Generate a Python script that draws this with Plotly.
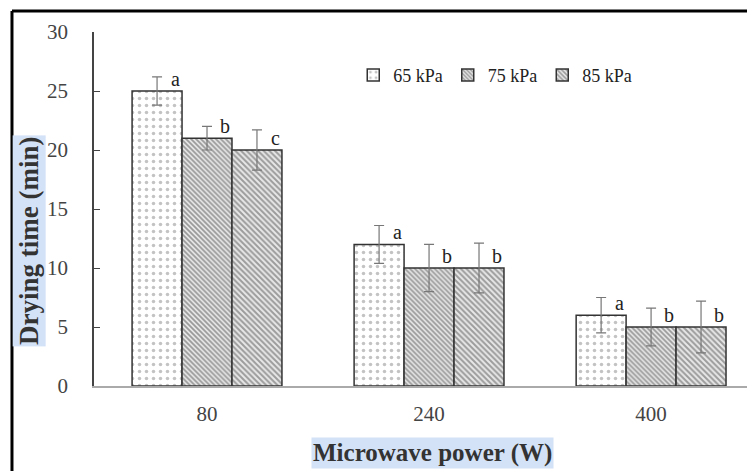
import plotly.graph_objects as go

# ---- data ----
categories = ["80", "240", "400"]
series_names = ["65 kPa", "75 kPa", "85 kPa"]
values_65 = [25, 12, 6]
values_75 = [21, 10, 5]
values_85 = [20, 10, 5]
err_65 = [1.2, 1.6, 1.5]
err_75 = [1.0, 2.0, 1.6]
err_85 = [1.7, 2.1, 2.2]
letters_65 = ["a", "a", "a"]
letters_75 = ["b", "b", "b"]
letters_85 = ["c", "b", "b"]
y_ticks = [0, 5, 10, 15, 20, 25, 30]

values = [values_65, values_75, values_85]
errors = [err_65, err_75, err_85]
letters = [letters_65, letters_75, letters_85]

FONT = "Liberation Serif, Times New Roman, serif"
BARGAP = 0.325
xpos = list(range(len(categories)))

patterns = [
    dict(shape=".", fgcolor="#888888", bgcolor="white", size=7, solidity=0.2),
    dict(shape="\\", fgcolor="#4a4a4a", bgcolor="#e8e8e8", size=3.5, solidity=0.5),
    dict(shape="\\", fgcolor="#505050", bgcolor="#e8e8e8", size=4, solidity=0.5),
]

fig = go.Figure()
for j in range(3):
    fig.add_trace(go.Bar(
        x=xpos, y=values[j], name=series_names[j],
        marker=dict(color="white", line=dict(color="#333333", width=1.5),
                    pattern=patterns[j]),
        error_y=dict(type="data", array=errors[j], visible=True,
                     color="#777777", thickness=1.2, width=5),
    ))

# significance letters at the top right of each bar
bw = (1 - BARGAP) / 3
anns = []
for j in range(3):
    for i in xpos:
        anns.append(dict(
            x=i + (j - 1) * bw + bw / 2, y=values[j][i], xref="x", yref="y",
            text=letters[j][i], showarrow=False, xanchor="right", yanchor="bottom",
            font=dict(family=FONT, size=20, color="#222222"), yshift=-1,
        ))

# axis titles with highlight background
anns.append(dict(x=0.519, y=-0.19, xref="paper", yref="paper",
                 xanchor="center", yanchor="middle",
                 text="<b>Microwave power (W)</b>", showarrow=False,
                 font=dict(family=FONT, size=25, color="#333333"),
                 bgcolor="#d3e2f6", borderpad=1))
anns.append(dict(x=-0.0995, y=0.41, xref="paper", yref="paper",
                 xanchor="center", yanchor="middle",
                 text="<b>Drying time (min)</b>", showarrow=False, textangle=-90,
                 font=dict(family=FONT, size=27, color="#333333"),
                 bgcolor="#d3e2f6", borderpad=1))

shapes = [
    dict(type="line", xref="paper", yref="paper", x0=-0.1256, x1=-0.1256,
         y0=-0.3, y1=1.0593, line=dict(color="black", width=3)),
    dict(type="line", xref="paper", yref="paper", x0=-0.1256, x1=1.02,
         y0=1.0593, y1=1.0593, line=dict(color="black", width=3)),
]

fig.update_layout(
    width=739, height=463,
    margin=dict(l=86, r=0, t=24, b=85, autoexpand=False),
    paper_bgcolor="white", plot_bgcolor="white",
    barmode="group", bargap=BARGAP, bargroupgap=0,
    font=dict(family=FONT, color="#333333"),
    legend=dict(orientation="h", x=0.397, y=0.878, xanchor="left", yanchor="middle",
                font=dict(family=FONT, size=18, color="#222222"),
                bgcolor="rgba(0,0,0,0)", itemwidth=30, tracegroupgap=0),
    annotations=anns, shapes=shapes,
    xaxis=dict(range=[-0.509, 2.432], tickvals=xpos, ticktext=categories,
               showline=True, linecolor="#aaaaaa", linewidth=1.5, ticks="",
               showgrid=False, zeroline=False, automargin=False,
               tickfont=dict(family=FONT, size=21, color="#444444"),
               ticklabelstandoff=8),
    yaxis=dict(range=[0, 30], tickvals=y_ticks, showline=True, linecolor="#444444",
               linewidth=1.5, ticks="inside", ticklen=6, tickcolor="#444444",
               showgrid=False, zeroline=False, automargin=False,
               tickfont=dict(family=FONT, size=21, color="#444444"),
               ticklabelstandoff=20),
)

fig.write_html("out.html")
